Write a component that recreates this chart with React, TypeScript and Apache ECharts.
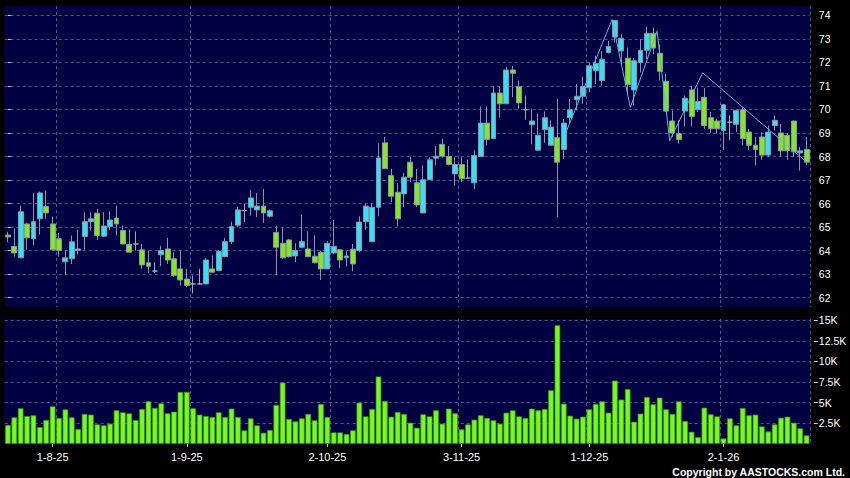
import React, { useEffect, useRef } from "react";
import * as echarts from "echarts";

// Trading days (D-M-YY)
const jul25 = ["23-7-25", "24-7-25", "25-7-25", "28-7-25", "29-7-25", "30-7-25", "31-7-25"];
const aug25 = ["1-8-25", "4-8-25", "5-8-25", "6-8-25", "7-8-25", "8-8-25", "11-8-25", "12-8-25", "13-8-25", "14-8-25", "15-8-25", "18-8-25", "19-8-25", "20-8-25", "21-8-25", "22-8-25", "25-8-25", "26-8-25", "27-8-25", "28-8-25", "29-8-25"];
const sep25 = ["1-9-25", "2-9-25", "3-9-25", "4-9-25", "5-9-25", "8-9-25", "9-9-25", "10-9-25", "11-9-25", "12-9-25", "15-9-25", "16-9-25", "17-9-25", "18-9-25", "19-9-25", "22-9-25", "23-9-25", "24-9-25", "25-9-25", "26-9-25", "29-9-25", "30-9-25"];
const oct25 = ["2-10-25", "3-10-25", "6-10-25", "7-10-25", "8-10-25", "9-10-25", "10-10-25", "13-10-25", "14-10-25", "15-10-25", "16-10-25", "17-10-25", "20-10-25", "21-10-25", "22-10-25", "23-10-25", "24-10-25", "27-10-25", "28-10-25", "30-10-25", "31-10-25"];
const nov25 = ["3-11-25", "4-11-25", "5-11-25", "6-11-25", "7-11-25", "10-11-25", "11-11-25", "12-11-25", "13-11-25", "14-11-25", "17-11-25", "18-11-25", "19-11-25", "20-11-25", "21-11-25", "24-11-25", "25-11-25", "26-11-25", "27-11-25", "28-11-25"];
const dec25 = ["1-12-25", "2-12-25", "3-12-25", "4-12-25", "5-12-25", "8-12-25", "9-12-25", "10-12-25", "11-12-25", "12-12-25", "15-12-25", "16-12-25", "17-12-25", "18-12-25", "19-12-25", "22-12-25", "23-12-25", "24-12-25", "29-12-25", "30-12-25", "31-12-25"];
const jan26 = ["2-1-26", "5-1-26", "6-1-26", "7-1-26", "8-1-26", "9-1-26", "12-1-26", "13-1-26", "14-1-26", "15-1-26", "16-1-26", "19-1-26", "20-1-26", "21-1-26"];
const categories = [...jul25, ...aug25, ...sep25, ...oct25, ...nov25, ...dec25, ...jan26];

// Dates whose left band edge carries a vertical grid line
const gridDates = ["4-8-25", "2-9-25", "3-10-25", "3-11-25", "1-12-25", "2-1-26"];

const opens = [
  64.66, 64.18, 63.69, 65.13, 64.5, 65.35, 65.87, 65.13, 64.5, 63.52,
  63.65, 64.0, 64.6, 65.23, 65.59, 64.61, 65.02, 65.38, 64.85, 64.26,
  64.28, 64.03, 63.48, 63.13, 63.82, 64.07, 63.65, 63.22, 62.79, 62.58,
  62.58, 62.58, 63.22, 63.15, 63.74, 64.38, 65.08, 65.7, 65.84, 65.73,
  65.89, 65.46, 64.77, 64.31, 64.45, 63.77, 64.14, 64.07, 63.76, 63.93,
  63.22, 63.9, 64.03, 63.69, 64.06, 64.0, 65.23, 64.38, 65.84, 68.58,
  67.19, 66.48, 66.41, 67.76, 66.88, 65.6, 67.01, 67.93, 68.52, 68.0,
  67.26, 67.66, 67.08, 66.88, 68.0, 69.42, 68.76, 70.7, 70.24, 71.68,
  70.97, 69.99, 69.35, 68.27, 69.14, 68.48, 68.8, 68.3, 69.65, 70.41,
  70.56, 70.92, 71.65, 71.23, 72.42, 73.08, 72.49, 72.18, 70.83, 72.0,
  72.52, 73.24, 72.39, 71.2, 69.51, 68.97, 69.93, 70.83, 69.99, 70.52,
  69.65, 69.51, 69.11, 69.46, 69.37, 69.99, 69.04, 68.48, 68.83, 68.06,
  69.32, 69.0, 68.9, 69.51, 68.15, 68.3,
];
const closes = [
  64.58, 63.9, 65.65, 64.54, 65.23, 66.45, 65.6, 64.03, 64.0, 63.69,
  64.37, 64.07, 65.23, 65.35, 64.64, 65.04, 65.3, 65.13, 64.28, 63.93,
  64.28, 63.39, 63.33, 63.13, 64.0, 63.6, 62.94, 62.75, 62.51, 62.58,
  62.58, 63.6, 63.08, 63.96, 64.38, 65.02, 65.73, 65.7, 66.24, 65.89,
  65.6, 65.69, 64.14, 63.69, 63.74, 64.0, 64.38, 63.74, 63.48, 63.22,
  64.31, 64.18, 63.6, 63.77, 63.43, 65.21, 65.89, 65.84, 67.94, 67.48,
  66.31, 65.35, 67.12, 67.12, 65.94, 67.01, 67.86, 68.01, 68.01, 67.66,
  67.66, 67.05, 67.08, 68.04, 69.42, 68.72, 70.7, 70.24, 71.68, 71.54,
  70.28, 69.99, 69.51, 68.9, 69.65, 69.25, 67.76, 69.42, 69.99, 70.56,
  70.97, 71.86, 71.96, 72.14, 72.68, 73.79, 73.03, 71.06, 72.07, 72.52,
  73.24, 72.61, 71.62, 69.93, 69.0, 68.72, 70.48, 69.7, 70.34, 69.32,
  69.18, 69.18, 70.2, 69.46, 69.96, 68.76, 68.48, 68.3, 68.06, 69.04,
  69.54, 68.24, 68.24, 68.2, 68.24, 67.76,
];
const lows = [
  64.35, 63.74, 63.69, 64.04, 64.21, 64.68, 65.35, 64.0, 63.74, 62.96,
  63.43, 63.84, 64.04, 64.85, 64.45, 64.57, 64.88, 64.64, 64.26, 63.93,
  64.0, 63.22, 63.04, 63.04, 63.33, 63.43, 62.89, 62.51, 62.44, 62.18,
  62.55, 62.58, 63.04, 63.12, 63.72, 64.28, 64.99, 65.21, 65.49, 65.42,
  65.18, 65.4, 62.94, 63.65, 63.7, 63.5, 64.11, 63.72, 63.46, 62.75,
  63.22, 63.86, 63.26, 63.32, 63.12, 63.93, 64.89, 64.35, 65.46, 67.48,
  66.06, 65.02, 65.84, 66.91, 65.84, 65.6, 67.01, 67.62, 67.95, 67.62,
  66.77, 66.91, 67.05, 66.62, 68.0, 68.48, 68.76, 69.65, 70.24, 70.52,
  70.03, 69.56, 68.52, 68.24, 68.58, 68.48, 65.42, 67.9, 69.39, 69.96,
  70.24, 70.73, 71.08, 71.01, 72.38, 72.85, 71.93, 70.66, 70.17, 71.58,
  72.14, 72.35, 71.23, 69.89, 68.83, 68.55, 69.28, 69.28, 69.89, 69.18,
  69.0, 68.97, 68.27, 68.69, 69.04, 68.48, 68.27, 67.62, 67.86, 67.99,
  69.11, 67.99, 67.86, 67.99, 67.4, 67.62,
];
const highs = [
  64.8, 64.94, 65.91, 65.2, 66.44, 66.51, 66.55, 65.45, 64.75, 64.0,
  64.64, 64.89, 65.63, 65.63, 65.77, 65.63, 65.67, 65.91, 65.06, 64.89,
  64.81, 64.28, 64.0, 63.5, 64.21, 64.54, 63.93, 64.0, 63.22, 62.94,
  63.22, 63.69, 63.79, 64.03, 64.54, 65.23, 65.87, 65.99, 66.58, 66.45,
  66.62, 65.75, 65.06, 64.99, 64.5, 64.31, 65.53, 64.82, 64.64, 64.0,
  64.4, 65.3, 64.06, 64.0, 64.28, 65.45, 65.99, 66.01, 68.56, 68.83,
  67.48, 66.87, 67.3, 68.0, 67.48, 67.62, 67.95, 68.45, 68.76, 68.45,
  67.97, 67.97, 67.87, 68.27, 70.13, 70.13, 70.99, 70.99, 71.82, 71.85,
  71.23, 70.59, 70.03, 69.82, 69.92, 69.54, 70.45, 69.6, 70.45, 71.08,
  71.39, 72.0, 72.28, 72.49, 72.92, 73.79, 73.2, 72.63, 72.18, 72.99,
  73.51, 73.48, 72.77, 71.51, 69.96, 69.54, 70.59, 71.01, 70.92, 70.92,
  69.89, 69.6, 70.24, 69.75, 69.99, 70.1, 69.18, 68.83, 69.04, 69.32,
  69.75, 69.39, 69.0, 69.51, 68.41, 68.83,
];
const volumes = [
  2280, 3210, 4310, 3370, 3460, 2030, 2890, 4550, 3130, 4190,
  3210, 1790, 3620, 3540, 2360, 2240, 2440, 4070, 3820, 3700,
  2890, 4230, 5160, 4350, 4920, 3700, 3900, 6300, 6300, 4310,
  3540, 3370, 3250, 3820, 3250, 4270, 3250, 1630, 3090, 2240,
  1340, 1670, 4720, 7440, 3010, 2720, 3090, 3620, 2850, 4840,
  3250, 1380, 1380, 1180, 1630, 5000, 3330, 4230, 8170, 5200,
  3290, 3860, 3620, 2560, 1950, 3580, 3330, 4070, 2440, 4270,
  3700, 1750, 2360, 2930, 3460, 3130, 2850, 2440, 3780, 4070,
  3330, 3130, 4270, 4070, 4230, 6500, 14400, 4880, 3410, 3050,
  3290, 4190, 4840, 5160, 3780, 7680, 5370, 6630, 2680, 3660,
  5690, 4800, 5610, 4190, 3620, 5160, 2760, 1460, 810, 4390,
  3580, 3330, 650, 3090, 2240, 4350, 3460, 3540, 2110, 1500,
  2360, 3170, 3290, 2560, 1870, 1020,
];

const priceTicks = [62, 63, 64, 65, 66, 67, 68, 69, 70, 71, 72, 73, 74];
const volumeTicks = [2500, 5000, 7500, 10000, 12500, 15000];

// Trend zig-zag (position in trading-day units, price)
const zigzagIndex = [87.25, 94.55, 97.42, 101.6, 103.57, 108.73, 125.07];
const zigzagPrice = [68.97, 73.82, 70.09, 73.33, 68.67, 71.56, 67.75];

const FONT = 'Arial, "Liberation Sans", sans-serif';
const NAVY = "#000042";
const GRID_LINE = { color: "#55558e", type: [3, 3] as any, width: 1 };

const monthOf = (s: string) => s.split("-")[1];
const isMonthStart = (i: number) => i > 0 && monthOf(categories[i]) !== monthOf(categories[i - 1]);
const gridSet = new Set(gridDates.map((d) => categories.indexOf(d)));

export default function App() {
  const ref = useRef<HTMLDivElement>(null);

  useEffect(() => {
    if (!ref.current) return;
    const chart = echarts.init(ref.current, undefined, { renderer: "svg" });

    const candleData = categories.map((_, i) => [opens[i], closes[i], lows[i], highs[i]]);
    const zigzag = zigzagIndex.map((x, k) => [x, zigzagPrice[k]]);

    const gridLeft = 4.7;
    const gridWidth = 805.1;

    const catAxisBase = {
      type: "category",
      data: categories,
      boundaryGap: true,
      axisLine: { show: false },
      splitLine: {
        show: true,
        interval: (i: number) => gridSet.has(i),
        lineStyle: GRID_LINE,
      },
    };

    const option: any = {
      animation: false,
      backgroundColor: "#000000",
      textStyle: { fontFamily: FONT },
      grid: [
        { left: gridLeft, top: 6, width: gridWidth, height: 301, show: true, backgroundColor: NAVY, borderWidth: 0 },
        { left: gridLeft, top: 319, width: gridWidth, height: 124.8, show: true, backgroundColor: NAVY, borderWidth: 0 },
      ],
      xAxis: [
        {
          ...catAxisBase,
          gridIndex: 0,
          axisTick: { show: false },
          axisLabel: { show: false },
        },
        {
          ...catAxisBase,
          gridIndex: 1,
          offset: 3,
          axisTick: {
            show: true,
            alignWithLabel: true,
            interval: (i: number) => isMonthStart(i),
            length: 3,
            lineStyle: { color: "#d0d0d0", width: 1 },
          },
          axisLabel: {
            interval: (i: number) => isMonthStart(i),
            color: "#ffffff",
            fontSize: 11,
            fontFamily: FONT,
            margin: 5,
          },
        },
        {
          type: "value",
          gridIndex: 0,
          min: -0.5,
          max: categories.length - 0.5,
          show: false,
        },
      ],
      yAxis: [
        {
          type: "value",
          gridIndex: 0,
          position: "right",
          min: 61.6,
          max: 74.4,
          offset: 4,
          axisLine: { show: false },
          axisTick: { show: true, length: 4, customValues: priceTicks, lineStyle: { color: "#d0d0d0", width: 1 } },
          axisLabel: { customValues: priceTicks, color: "#ffffff", fontSize: 10.5, fontFamily: FONT, margin: 5 },
          splitLine: { show: false },
        },
        {
          type: "value",
          gridIndex: 1,
          position: "right",
          min: 0,
          max: 15160,
          offset: 4,
          axisLine: { show: false },
          axisTick: { show: true, length: 4, customValues: volumeTicks, lineStyle: { color: "#d0d0d0", width: 1 } },
          axisLabel: {
            customValues: volumeTicks,
            color: "#ffffff",
            fontSize: 10.5,
            fontFamily: FONT,
            margin: 5,
            formatter: (v: number) => `${v / 1000}K`,
          },
          splitLine: { show: false },
        },
      ],
      series: [
        {
          type: "candlestick",
          xAxisIndex: 0,
          yAxisIndex: 0,
          data: candleData,
          barWidth: 5.4,
          z: 10,
          itemStyle: {
            color: "#30e2f2",
            color0: "#80ea1c",
            borderColor: "#8a96a6",
            borderColor0: "#8a96a6",
            borderColorDoji: "#a4aab4",
            borderWidth: 1,
          },
          markLine: {
            silent: true,
            z: 2,
            symbol: ["none", "none"],
            label: { show: false },
            lineStyle: GRID_LINE,
            emphasis: { disabled: true },
            data: priceTicks.map((v) => ({ yAxis: v })),
          },
        },
        {
          type: "line",
          xAxisIndex: 2,
          yAxisIndex: 0,
          data: zigzag,
          symbol: "none",
          z: 12,
          lineStyle: { color: "#5cb6ea", width: 1 },
        },
        {
          type: "bar",
          xAxisIndex: 1,
          yAxisIndex: 1,
          data: volumes,
          barWidth: 5.6,
          z: 10,
          itemStyle: { color: "#78f820", borderColor: "#3c9a0a", borderWidth: 0.7 },
          markLine: {
            silent: true,
            z: 2,
            symbol: ["none", "none"],
            label: { show: false },
            lineStyle: GRID_LINE,
            emphasis: { disabled: true },
            data: volumeTicks.map((v) => ({ yAxis: v })),
          },
        },
      ],
      graphic: [
        {
          type: "text",
          x: 845,
          y: 472,
          style: {
            text: "Copyright by AASTOCKS.com Ltd.",
            fill: "#ffffff",
            font: `bold 10.5px ${FONT}`,
            align: "right",
            verticalAlign: "middle",
          },
        },
      ],
    };

    chart.setOption(option);
    return () => chart.dispose();
  }, []);

  return (
    <div
      ref={ref}
      style={{ position: "fixed", left: 0, top: 0, width: 850, height: 478, background: "#000000" }}
    />
  );
}
